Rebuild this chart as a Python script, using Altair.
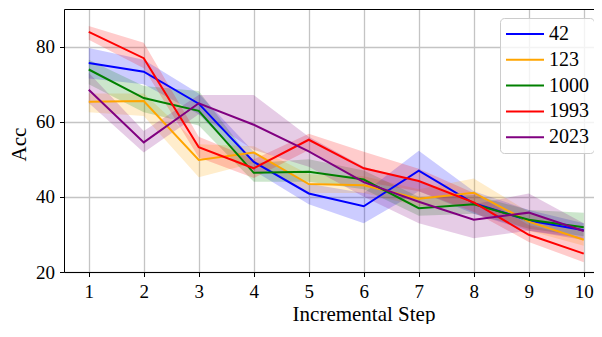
import altair as alt
import pandas as pd

steps = [1, 2, 3, 4, 5, 6, 7, 8, 9, 10]
seeds = ["42", "123", "1000", "1993", "2023"]
colors = ["#0000ff", "#ffa500", "#008000", "#ff0000", "#800080"]

acc42 = [75.6, 73.3, 64.8, 49.3, 40.9, 37.5, 47.0, 38.3, 33.7, 31.1]
lo42 = [71.5, 70.0, 62.0, 47.0, 38.0, 33.0, 41.5, 35.5, 31.0, 29.0]
hi42 = [79.6, 76.5, 67.5, 52.0, 43.5, 41.0, 52.3, 41.5, 36.5, 33.0]

acc123 = [65.3, 65.5, 49.8, 51.8, 43.4, 43.1, 39.5, 41.1, 33.4, 28.6]
lo123 = [62.5, 61.5, 45.2, 49.0, 41.0, 41.0, 37.5, 38.0, 31.0, 27.0]
hi123 = [67.5, 67.5, 54.0, 53.5, 46.0, 45.5, 42.0, 44.9, 36.0, 31.0]

acc1000 = [73.9, 66.3, 62.9, 46.4, 46.7, 44.6, 37.0, 38.0, 33.9, 31.9]
lo1000 = [70.0, 62.5, 59.0, 44.0, 44.0, 42.0, 35.0, 35.5, 31.5, 29.5]
hi1000 = [76.5, 69.5, 68.2, 49.0, 50.0, 47.0, 40.0, 40.5, 36.5, 35.8]

acc1993 = [83.9, 76.9, 53.2, 47.6, 55.2, 47.6, 44.2, 38.5, 29.9, 24.9]
lo1993 = [81.8, 74.2, 50.5, 45.0, 52.5, 44.0, 41.5, 36.0, 28.0, 22.6]
hi1993 = [85.5, 81.0, 56.0, 50.0, 56.8, 52.0, 47.5, 41.0, 32.5, 29.0]

acc2023 = [68.5, 54.5, 64.9, 59.2, 52.1, 43.9, 38.7, 33.9, 35.8, 30.9]
lo2023 = [65.0, 51.8, 62.0, 52.5, 48.0, 40.0, 33.0, 29.0, 31.0, 28.5]
hi2023 = [73.0, 57.5, 67.1, 67.1, 56.0, 48.0, 44.0, 38.0, 40.9, 33.0]

series = {
    "42": (acc42, lo42, hi42),
    "123": (acc123, lo123, hi123),
    "1000": (acc1000, lo1000, hi1000),
    "1993": (acc1993, lo1993, hi1993),
    "2023": (acc2023, lo2023, hi2023),
}

rows = []
for i, s in enumerate(seeds):
    acc, lo, hi = series[s]
    for st, a, l, h in zip(steps, acc, lo, hi):
        rows.append({"step": st, "seed": s, "order": i, "col": colors[i],
                     "acc": a, "lo": l, "hi": h})
df = pd.DataFrame(rows)

FONT = "Liberation Serif"

xscale = alt.Scale(domain=[0.55, 10.186], nice=False, zero=False)
yscale = alt.Scale(domain=[20, 90], nice=False, zero=False)
cscale = alt.Scale(domain=seeds, range=colors)

xaxis = alt.Axis(values=steps, format="d", title="Incremental Step",
                 labelFont=FONT, labelFontSize=19, labelPadding=6,
                 titleX=299.5, titleY=48, titleBaseline="alphabetic")
xaxis_top = alt.Axis(orient="top", labels=False, ticks=False, grid=False,
                     title=None, domain=True)
yaxis = alt.Axis(values=[20, 40, 60, 80], format="d", title="Acc",
                 labelFont=FONT, labelFontSize=19, labelPadding=5,
                 titleX=-39, titleY=135, titleBaseline="alphabetic", titleAlign="center")

base = alt.Chart(df)

bands = base.mark_area(opacity=0.2, interpolate="linear").encode(
    x=alt.X("step:Q", scale=xscale, axis=xaxis),
    y=alt.Y("lo:Q", scale=yscale, axis=yaxis),
    y2="hi:Q",
    fill=alt.Fill("col:N", scale=None),
    detail="seed:N",
    order="order:Q",
)

lines = base.mark_line(strokeWidth=2).encode(
    x=alt.X("step:Q", scale=xscale, axis=xaxis_top),
    y=alt.Y("acc:Q", scale=yscale),
    color=alt.Color(
        "seed:N", scale=cscale, sort=seeds,
        legend=alt.Legend(
            orient="none", legendX=436, legendY=9, title=None,
            symbolType="M-1,0H2.8", symbolSize=400, symbolStrokeWidth=2,
            labelFont=FONT, labelFontSize=20, labelColor="black",
            labelOffset=22, rowPadding=4.8, padding=5,
            fillColor="rgba(255,255,255,0.8)", strokeColor="#cccccc",
            cornerRadius=4,
        ),
    ),
    order="order:Q",
)

chart = alt.layer(bands, lines).resolve_axis(x="independent").properties(
    width=530, height=263,
    autosize=alt.AutoSizeParams(type="none"),
    padding={"left": 56, "top": 1, "right": 0, "bottom": 52},
).configure_view(
    stroke=None
).configure_axis(
    labelFont=FONT, labelFontSize=19, labelColor="black",
    titleFont=FONT, titleFontSize=21, titleFontWeight="normal", titleColor="black",
    domainColor="black", domainWidth=1,
    tickColor="black", tickSize=4.5, tickWidth=1,
    gridColor="#c4c4c4", gridWidth=1.3,
)

chart.save("out.html", embed_options={"renderer": "svg", "actions": False})
